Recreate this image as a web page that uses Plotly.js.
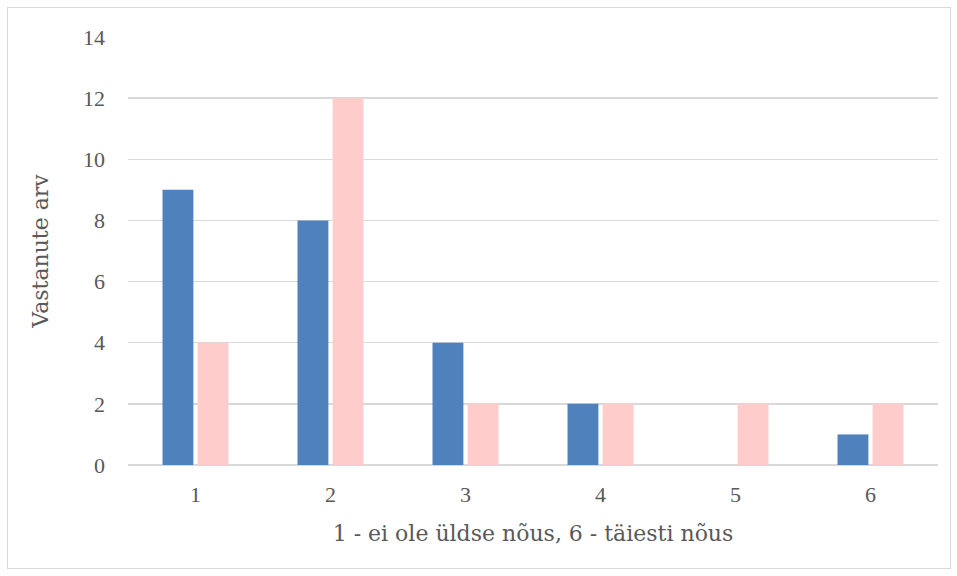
<!DOCTYPE html>
<html><head><meta charset="utf-8">
<script src="https://cdn.plot.ly/plotly-3.0.1.min.js"></script>
<style>
html,body{margin:0;padding:0;background:#fff;}
#wrap{position:relative;width:957px;height:576px;}
#frame{position:absolute;left:7px;top:7px;width:942px;height:560px;border:1px solid #d9d9d9;pointer-events:none;}
#chart{position:absolute;left:0;top:0;width:957px;height:576px;}
</style></head>
<body><div id="wrap"><div id="chart"></div><div id="frame"></div></div>
<script>
const categories = ['1','2','3','4','5','6'];
const seriesA = [9, 8, 4, 2, 0, 1];
const seriesB = [4, 12, 2, 2, 2, 2];
const yTicks = [0, 2, 4, 6, 8, 10, 12, 14];

const titleFam = 'DejaVu Serif, Liberation Serif, serif';
const tickFam = 'Liberation Serif, DejaVu Serif, serif';
const traces = [
  {type:'bar', x:categories, y:seriesA, name:'A', marker:{color:'#4F81BD', line:{width:0}}, hoverinfo:'x+y'},
  {type:'bar', x:categories, y:seriesB, name:'B', marker:{color:'#FFCCCC', line:{width:0}}, hoverinfo:'x+y'}
];
const layout = {
  width:957, height:576,
  margin:{l:128, r:19, t:37, b:111},
  paper_bgcolor:'#ffffff', plot_bgcolor:'#ffffff',
  showlegend:false,
  barmode:'group', bargap:0.48, bargroupgap:0.12,
  font:{family:tickFam, color:'#595959', size:22},
  xaxis:{type:'category', showgrid:false, zeroline:false, showline:false, ticks:'',
    ticklabelstandoff:14,
    tickfont:{size:22, family:tickFam, color:'#595959'},
    title:{text:'1 - ei ole üldse nõus, 6 - täiesti nõus', font:{size:22, family:titleFam, color:'#595959'}, standoff:19}},
  yaxis:{range:[0,14], tickvals:yTicks, showgrid:true, gridcolor:'#d9d9d9', gridwidth:1.5,
    zeroline:true, zerolinecolor:'#d9d9d9', zerolinewidth:1.5, showline:false, ticks:'',
    ticklabelstandoff:22,
    tickfont:{size:22, family:tickFam, color:'#595959'},
    title:{text:'Vastanute arv', font:{size:22, family:titleFam, color:'#595959'}, standoff:28}}
};
Plotly.newPlot('chart', traces, layout, {displayModeBar:false, staticPlot:true});
</script></body></html>
